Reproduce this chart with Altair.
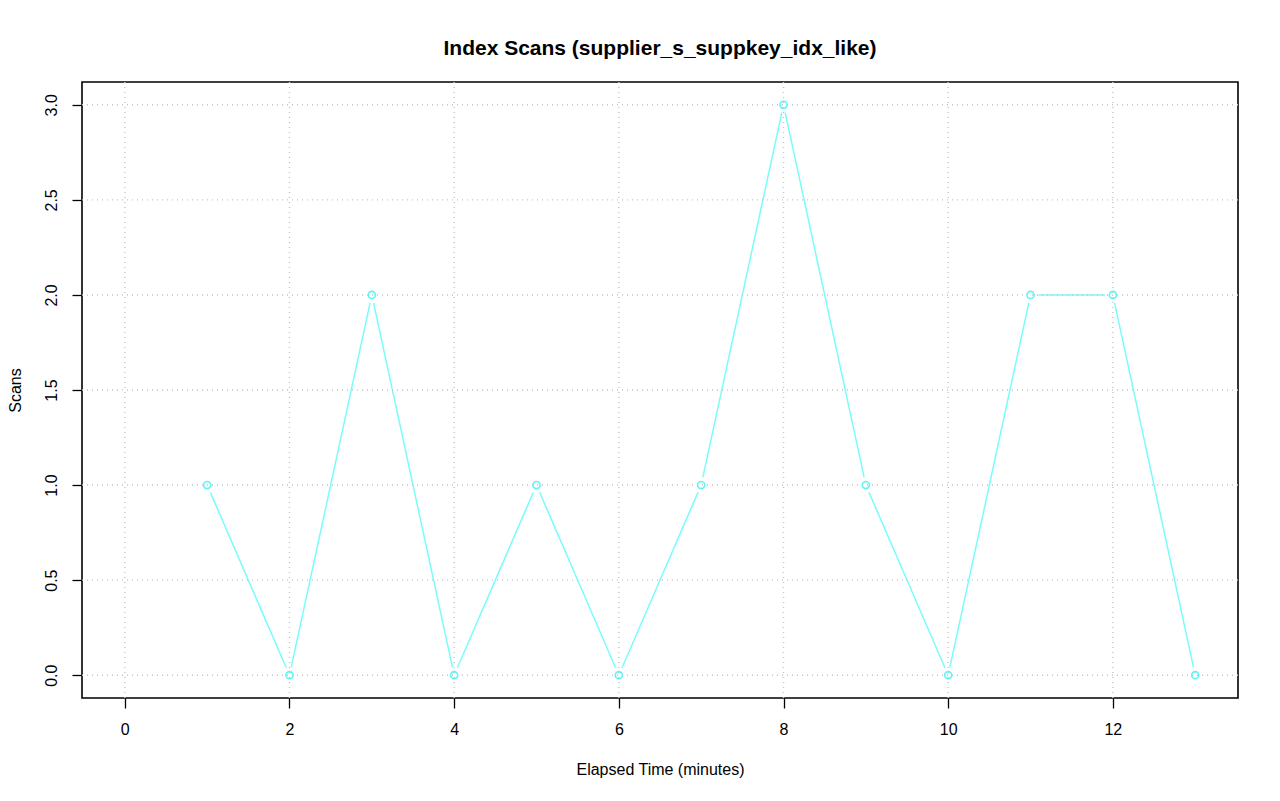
import altair as alt
import pandas as pd

minutes = [1, 2, 3, 4, 5, 6, 7, 8, 9, 10, 11, 12, 13]
scans = [1, 0, 2, 0, 1, 0, 1, 3, 1, 0, 2, 2, 0]
x_ticks = [0, 2, 4, 6, 8, 10, 12]
y_ticks = [0.0, 0.5, 1.0, 1.5, 2.0, 2.5, 3.0]

df = pd.DataFrame({"x": minutes, "y": scans})
gx = pd.DataFrame({"x": x_ticks})
gy = pd.DataFrame({"y": y_ticks})

FONT = "Liberation Sans"
FS = 16
xs = alt.Scale(domain=[-0.52, 13.52], nice=False, zero=False)
ys = alt.Scale(domain=[-0.12, 3.12], nice=False, zero=False)

xenc = alt.X("x:Q", scale=xs, title="Elapsed Time (minutes)",
             axis=alt.Axis(values=x_ticks, format="d", grid=False, domain=False,
                           tickSize=10, tickColor="black", tickWidth=1.3, labelPadding=13,
                           labelFontSize=FS, titleFontSize=FS, titlePadding=24,
                           labelColor="black", titleColor="black", titleFontWeight="normal"))
yenc = alt.Y("y:Q", scale=ys, title="Scans",
             axis=alt.Axis(values=y_ticks, format=".1f", grid=False, domain=False,
                           tickSize=10, tickColor="black", tickWidth=1.3, labelPadding=13,
                           labelAngle=270, labelAlign="center", labelBaseline="bottom",
                           labelFontSize=FS, titleFontSize=FS, titlePadding=20,
                           labelColor="black", titleColor="black", titleFontWeight="normal"))

line = alt.Chart(df).mark_line(color="#78fcfc", strokeWidth=1.5).encode(x=xenc, y=yenc)
gaps = alt.Chart(df).mark_point(shape="circle", filled=True, color="white", opacity=1, size=260).encode(
    x=alt.X("x:Q", scale=xs), y=alt.Y("y:Q", scale=ys))
vgrid = alt.Chart(gx).mark_rule(color="#c4c4c4", strokeDash=[1, 4], strokeWidth=1.4).encode(
    x=alt.X("x:Q", scale=xs))
hgrid = alt.Chart(gy).mark_rule(color="#c4c4c4", strokeDash=[1, 4], strokeWidth=1.4).encode(
    y=alt.Y("y:Q", scale=ys))
pts = alt.Chart(df).mark_point(shape="circle", filled=False, color="#5ff5f5", strokeWidth=1.6,
                               opacity=1, size=50).encode(
    x=alt.X("x:Q", scale=xs), y=alt.Y("y:Q", scale=ys))

chart = alt.layer(line, gaps, vgrid, hgrid, pts).properties(
    width=1156, height=616,
    title=alt.Title("Index Scans (supplier_s_suppkey_idx_like)", fontSize=21, fontWeight="bold",
                    font=FONT, color="black", anchor="middle", offset=22),
    autosize=alt.AutoSizeParams(type="none"),
    padding={"left": 74, "top": 74, "right": 34, "bottom": 95},
).configure(
    font=FONT,
    view=alt.ViewConfig(stroke="black", strokeWidth=1.6),
    axis=alt.AxisConfig(labelFont=FONT, titleFont=FONT),
)

chart.save("out.html", embed_options={"renderer": "svg", "actions": False})
